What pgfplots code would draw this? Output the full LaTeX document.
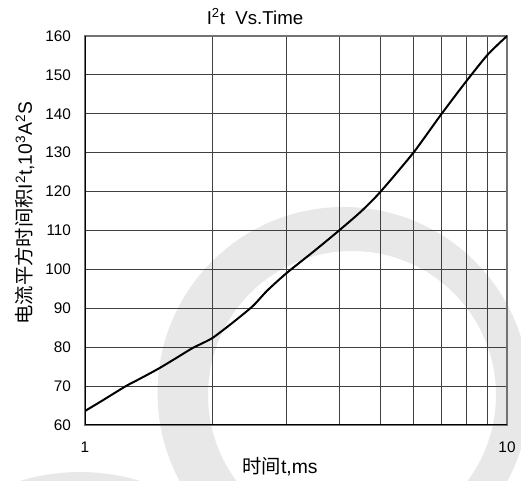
\documentclass[border=0pt]{standalone}
\usepackage{fontspec}
\setmainfont{Liberation Sans}
\newfontfamily\cjk{Noto Sans CJK SC}
\usepackage{pgfplots}
\pgfplotsset{compat=1.18}

\begin{document}
\begin{tikzpicture}[x=0.75pt,y=0.75pt]
\useasboundingbox (0,0) rectangle (521,481);
% faint watermark behind the chart
\fill[black!9, even odd rule] (343.5,88) circle[radius=186] (352,86) circle[radius=144];
\fill[black!9] (80,-195) circle[radius=204];

\begin{axis}[
    at={(63.75pt,42pt)}, anchor=south west,
    scale only axis, width=316.5pt, height=291.75pt,
    xmode=log, log basis x=10,
    xmin=1, xmax=10, ymin=60, ymax=160,
    xtick={1,10}, xticklabels={1,10},
    minor xtick={2,3,4,5,6,7,8,9},
    ytick={60,70,...,160},
    grid=both,
    major grid style={black!75, line width=0.6pt},
    minor grid style={black!75, line width=0.6pt},
    major tick length=0pt, minor tick length=0pt,
    axis line style={black!55, line width=1.2pt},
    tick label style={font=\fontsize{11.5}{13}\selectfont},
    xticklabel style={yshift=-9pt},
    yticklabel style={xshift=-7pt},
    /pgf/number format/assume math mode=true,
]
    \addplot[black, line width=1.5pt, smooth, tension=0.4] coordinates {
        (1,63.6) (1.1,66.3) (1.25,70) (1.35,71.9) (1.5,74.6) (1.65,77.3)
        (1.8,79.8) (2,82.3) (2.25,86.5) (2.5,90.6) (2.7,94.5) (3,99)
        (3.5,104.8) (4,110) (4.5,114.8) (5,119.8) (6,130) (7,140)
        (8,148.3) (9,155.2) (10,160)
    };
    % darker left and bottom frame
    \draw[black, line width=1.2pt] (rel axis cs:0,1) -- (rel axis cs:0,0) -- (rel axis cs:1,0);
\end{axis}

\node[font=\fontsize{14}{16}\selectfont] at (255,464) {I\textsuperscript{2}t\ \ Vs.Time};
\node[font=\fontsize{14.5}{16}\selectfont, rotate=90] at (25,268)
    {{\cjk 电流平方时间积}I\textsuperscript{2}t,10\textsuperscript{3}A\textsuperscript{2}S};
\node[font=\fontsize{14.5}{16}\selectfont] at (280,14) {{\cjk 时间}t,ms};
\end{tikzpicture}
\end{document}
